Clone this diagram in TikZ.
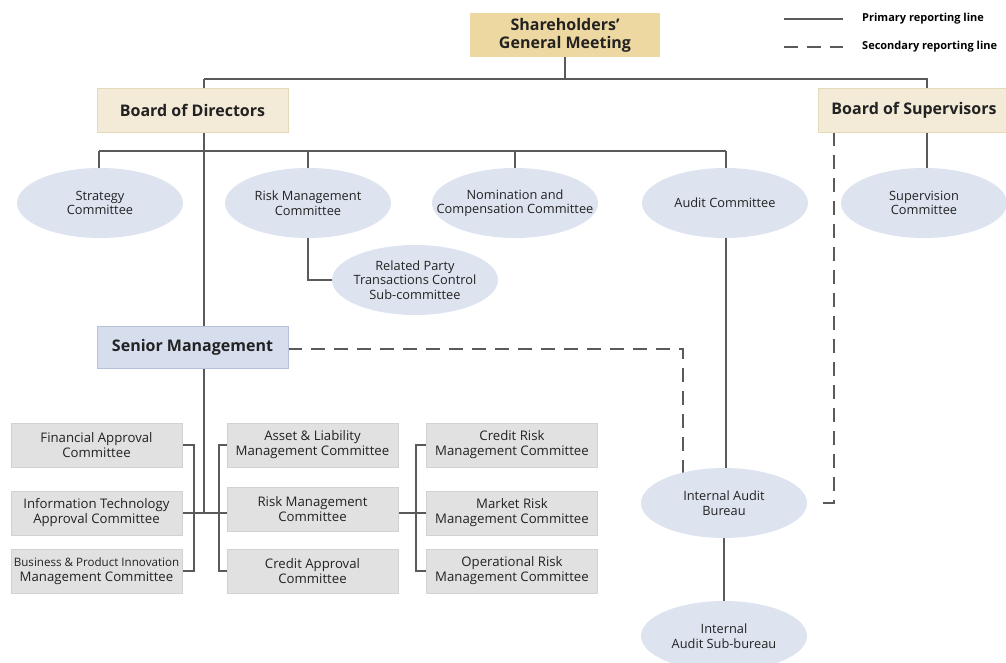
\documentclass[tikz,border=0pt]{standalone}
\usepackage{fontspec}
\setmainfont{Open Sans}
\usetikzlibrary{shapes.geometric,backgrounds}

\definecolor{lnk}{HTML}{5A5A5A}
\definecolor{sgmfill}{HTML}{EED8A2}
\definecolor{boardfill}{HTML}{F3EBD8}
\definecolor{boardedge}{HTML}{E6D9B5}
\definecolor{srfill}{HTML}{D6DEEE}
\definecolor{sredge}{HTML}{B5C1DA}
\definecolor{ellfill}{HTML}{DDE4F0}
\definecolor{greyfill}{HTML}{E1E1E1}
\definecolor{greyedge}{HTML}{D2D2D2}
\definecolor{txt}{HTML}{222222}

\tikzset{
  conn/.style={draw=lnk, line width=1.2pt},
  sec/.style={conn, dash pattern=on 14pt off 9pt},
  topbox/.style={rectangle, fill=sgmfill, minimum width=190pt, minimum height=44pt,
    inner sep=0pt, align=center, text=txt, font=\bfseries\fontsize{16}{18}\selectfont},
  board/.style={topbox, fill=boardfill, draw=boardedge, line width=0.8pt, minimum width=191pt},
  mgmt/.style={board, fill=srfill, draw=sredge, minimum height=42pt},
  commtext/.style={inner sep=0pt, align=center, text=txt, font=\fontsize{12.8}{14.5}\selectfont},
  % fixed-size ellipse; its text is set as a centred label so it cannot widen the shape
  comm/.style={ellipse, fill=ellfill, minimum width=166pt, minimum height=70pt,
    inner sep=0pt, label={[commtext]center:#1}},
  gbox/.style={rectangle, fill=greyfill, draw=greyedge, line width=0.8pt,
    minimum width=171pt, minimum height=44pt, inner sep=0pt, align=center,
    text=txt, font=\fontsize{13.2}{15}\selectfont},
  legend/.style={anchor=west, inner sep=0pt, text=black, font=\bfseries\fontsize{11}{12}\selectfont}
}

\begin{document}
\begin{tikzpicture}[x=1pt,y=-1pt]
\useasboundingbox (0,0) rectangle (1006,663);

% governing bodies
\node[topbox] (sgm) at (565,35) {Shareholders'\\General Meeting};
\node[board] (bod) at (192.5,110) {Board of Directors};
\node[board] (bos) at (914,110) {Board of Supervisors};

% board committees
\node[comm={Strategy\\Committee}] (strat) at (100,203) {};
\node[comm={Risk Management\\Committee}] (riskc) at (308,203) {};
\node[comm={Nomination and\\Compensation Committee}] (nomc) at (515,203) {};
\node[comm={Audit Committee}] (audc) at (725,203) {};
\node[comm={Supervision\\Committee}] (supc) at (924,203) {};
\node[comm={Related Party\\Transactions Control\\Sub-committee}] (rpt) at (415,280) {};

% management and audit
\node[mgmt] (senior) at (192.5,347) {Senior Management};
\node[comm={Internal Audit\\Bureau}] (iab) at (724,503) {};
\node[comm={Internal\\Audit Sub-bureau}] (iasb) at (724,636) {};

% management committees
\node[gbox] (fac) at (96.5,445) {Financial Approval\\Committee};
\node[gbox] (itc) at (96.5,513) {Information Technology\\Approval Committee};
\node[gbox] (bpi) at (96.5,571) {\fontsize{11.6}{15}\selectfont Business \& Product Innovation\\Management Committee};
\node[gbox] (alm) at (312.5,445) {Asset \& Liability\\Management Committee};
\node[gbox] (rmc) at (312.5,509) {Risk Management\\Committee};
\node[gbox] (cac) at (312.5,571) {Credit Approval\\Committee};
\node[gbox] (crm) at (512,445) {Credit Risk\\Management Committee};
\node[gbox] (mrm) at (512,513) {Market Risk\\Management Committee};
\node[gbox] (orm) at (512,571) {Operational Risk\\Management Committee};

% legend
\coordinate (lg1a) at (784,19);  \coordinate (lg1b) at (843,19);
\coordinate (lg2a) at (784,47);  \coordinate (lg2b) at (843,47);
\node[legend] (lgp) at (862,19) {Primary reporting line};
\node[legend] (lgs) at (862,47) {Secondary reporting line};

% junction points of the reporting lines
\coordinate (tl) at (204,79);
\coordinate (tr) at (927,79);
\coordinate (cl) at (99,151);
\coordinate (cr) at (726,151);
\coordinate (rj) at (308,280);
\coordinate (mj) at (204,513);
\coordinate (lb) at (194,513);
\coordinate (mb) at (219,513);
\coordinate (rb) at (416,513);
\coordinate (dsm) at (683,349);
\coordinate (dsv) at (834,503);
\coordinate (dse) at (814,503);

\begin{scope}[on background layer]
  \draw[conn] (lg1a) -- (lg1b);
  \draw[sec]  (lg2a) -- (lg2b);
  % shareholders to the two boards
  \draw[conn] (sgm.south) -- (sgm.south |- tl);
  \draw[conn] (tl) -- (tr) -- (tr |- bos.north);
  % board of directors line down to the management committees
  \draw[conn] (tl) -- (mj);
  % board committees
  \draw[conn] (cl) -- (cr);
  \draw[conn] (cl) -- (strat.north -| cl);
  \draw[conn] (riskc.north |- cl) -- (riskc.north);
  \draw[conn] (nomc.north |- cl) -- (nomc.north);
  \draw[conn] (cr) -- (cr |- audc.north);
  \draw[conn] (riskc.south) -- (rj) -- (rpt.west);
  % audit chain
  \draw[conn] (audc.south -| cr) -- (iab.north -| cr);
  \draw[conn] (iab.south) -- (iasb.north);
  \draw[conn] (bos.south -| tr) -- (supc.north -| tr);
  % secondary lines
  \draw[sec] (senior.east |- dsm) -- (dsm) -- (dsm |- iab.center);
  \draw[sec] (bos.south -| dsv) -- (dsv) -- (dse);
  % management committee brackets
  \draw[conn] (itc.east) -- (mrm.west -| rmc.west);
  \draw[conn] (fac.east) -- (fac.east -| lb) -- (bpi.east -| lb) -- (bpi.east);
  \draw[conn] (alm.west) -- (alm.west -| mb) -- (cac.west -| mb) -- (cac.west);
  \draw[conn] (mrm.west -| rmc.east) -- (mrm.west);
  \draw[conn] (crm.west) -- (crm.west -| rb) -- (orm.west -| rb) -- (orm.west);
\end{scope}
\end{tikzpicture}
\end{document}
